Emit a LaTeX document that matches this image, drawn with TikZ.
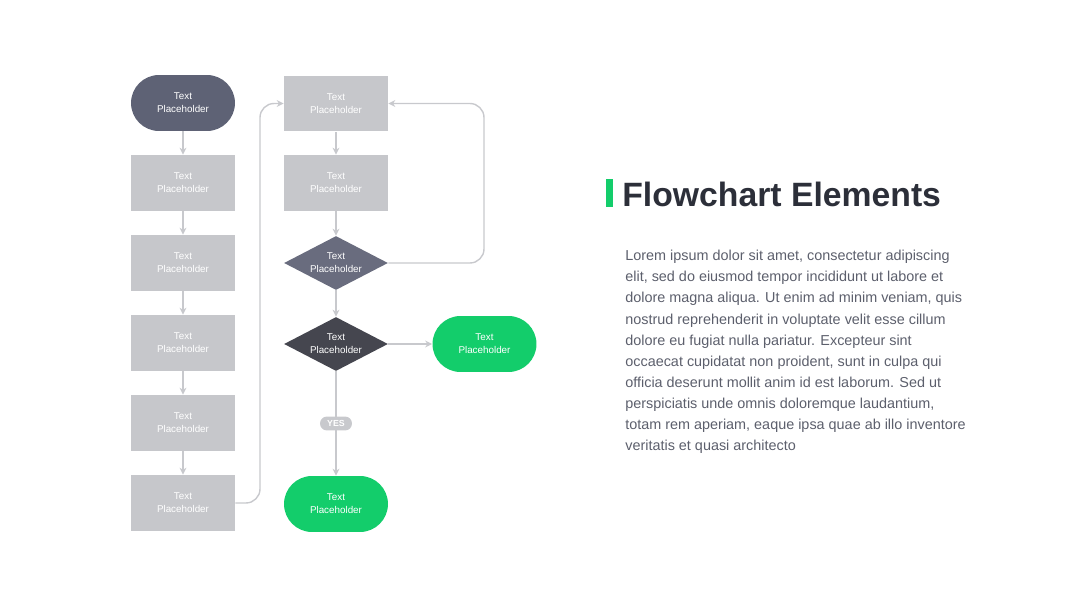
\documentclass[tikz,border=0pt]{standalone}
\usepackage{fontspec}
\setmainfont{Liberation Sans}
\usepackage{xcolor}
\usetikzlibrary{shapes.geometric,arrows.meta}

\definecolor{slate}{HTML}{5E6275}
\definecolor{boxgray}{HTML}{C6C7CB}
\definecolor{dmid}{HTML}{696C7E}
\definecolor{ddark}{HTML}{45464F}
\definecolor{mint}{HTML}{13CD6B}
\definecolor{wire}{HTML}{C8C9CD}
\definecolor{heading}{HTML}{2C2F39}
\definecolor{bodytext}{HTML}{5C5F6C}

\tikzset{
  card/.style={minimum width=2.08cm, minimum height=1.12cm, inner sep=0pt,
    text=white, align=center, font=\fontsize{5.6}{7.4}\selectfont},
  procbox/.style={card, fill=boxgray},
  termbox/.style={card, rounded corners=0.56cm},
  decide/.style={card, diamond, aspect=1.93, minimum width=2.08cm, minimum height=1.08cm},
  flow/.style={draw=wire, line width=0.8pt, -{Stealth[length=4pt,width=4pt]}},
  loopflow/.style={flow, rounded corners=8pt}
}

\begin{document}
\begin{tikzpicture}[x=0.02cm,y=-0.02cm]
    \useasboundingbox (0,0) rectangle (1080,608);
    % left column
    \node[termbox, fill=slate] (start) at (183,103) {Text\\Placeholder};
    \foreach \i/\y in {1/183,2/263,3/343,4/423,5/503}
      \node[procbox] (p\i) at (183,\y) {Text\\Placeholder};
    \draw[flow] (start) -- (p1);
    \foreach \i [count=\j from 2] in {1,...,4}
      \draw[flow] (p\i) -- (p\j);
    % middle column
    \node[procbox] (m1) at (336,103.5) {Text\\Placeholder};
    \node[procbox] (m2) at (336,183) {Text\\Placeholder};
    \node[decide, fill=dmid] (d1) at (336,263) {Text\\Placeholder};
    \node[decide, fill=ddark] (d2) at (336,344) {Text\\Placeholder};
    \node[termbox, fill=mint] (endR) at (484.5,344) {Text\\Placeholder};
    \node[termbox, fill=mint] (endB) at (336,504) {Text\\Placeholder};
    \draw[flow] (m1) -- (m2);
    \draw[flow] (m2) -- (d1);
    \draw[flow] (d1) -- (d2);
    \draw[flow] (d2) -- (endR);
    \draw[flow] (d2) -- node[fill=wire, text=white, rounded corners=0.14cm, inner sep=0pt,
      minimum width=0.64cm, minimum height=0.28cm, font=\fontsize{5}{6}\selectfont\bfseries] (yes) {YES} (endB);
    \draw[loopflow] (p5.east) -| (260,103.5) -- (m1.west);
    \draw[loopflow] (d1.east) -| (484,103.5) -- (m1.east);
    % text side
    \fill[mint] (606,179) rectangle (613,207);
    \node[anchor=base west, inner sep=0pt, text=heading,
      font=\fontsize{19.2}{23}\selectfont\bfseries] (title) at (622,207) {Flowchart Elements};
    \node[anchor=north west, inner sep=0pt, text=bodytext, align=left,
      font=\fontsize{8.2}{12}\selectfont] (body) at (625,250) {Lorem ipsum dolor sit amet, consectetur adipiscing\\
      elit, sed do eiusmod tempor incididunt ut labore et\\
      dolore magna aliqua. Ut enim ad minim veniam, quis\\
      nostrud reprehenderit in voluptate velit esse cillum\\
      dolore eu fugiat nulla pariatur. Excepteur sint\\
      occaecat cupidatat non proident, sunt in culpa qui\\
      officia deserunt mollit anim id est laborum. Sed ut\\
      perspiciatis unde omnis doloremque laudantium,\\
      totam rem aperiam, eaque ipsa quae ab illo inventore\\
      veritatis et quasi architecto};
\end{tikzpicture}
\end{document}
